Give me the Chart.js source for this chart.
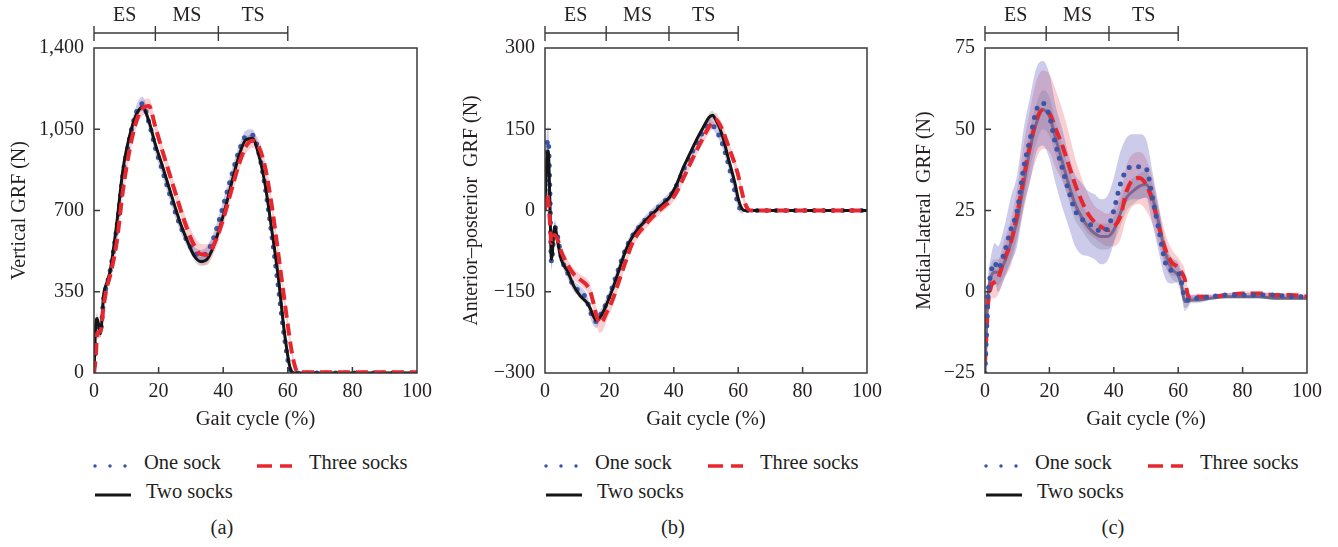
<!DOCTYPE html>
<html>
<head>
<meta charset="utf-8">
<script src="https://cdn.jsdelivr.net/npm/chart.js@4.4.1/dist/chart.umd.min.js"></script>
<style>
  body { margin: 0; background: #fff; width: 1338px; height: 547px; position: relative; overflow: hidden;
         font-family: "Liberation Serif", "DejaVu Serif", serif; color: #231f20; }
  canvas { position: absolute; top: 0; }
  .lg { position: absolute; font-size: 20.5px; line-height: 24px; white-space: nowrap; }
  .sym { position: absolute; }
</style>
</head>
<body>
<canvas id="chart-a" width="433" height="434"></canvas>
<canvas id="chart-b" width="431" height="434"></canvas>
<canvas id="chart-c" width="418" height="434"></canvas>
<script>
// Gait phases shown above each panel
const phaseBounds = [0, 19, 38.5, 60];
const phaseLabels = ['ES', 'MS', 'TS'];
const seriesNames = ['One sock', 'Two socks', 'Three socks'];

// (a) vertical GRF (N)
const vertX = [0, 0.5, 1, 2, 3, 4, 5, 7, 9, 11, 13, 15, 17, 19, 21, 23, 25, 27, 29, 31, 33, 35, 37, 39, 41, 43, 45, 47, 49, 51, 53, 55, 57, 59, 61, 62, 63, 65, 70, 80, 90, 100];
const vertOne = [0, 150, 200, 180, 320, 380, 440, 620, 860, 1010, 1120, 1160, 1080, 970, 880, 790, 700, 625, 565, 520, 505, 520, 580, 670, 770, 870, 960, 1020, 1025, 950, 800, 600, 380, 150, 5, 0, 0, 0, 0, 0, 0, 0];
const vertTwo = [0, 200, 235, 170, 340, 390, 440, 640, 880, 1020, 1110, 1145, 1085, 985, 900, 810, 720, 635, 565, 505, 480, 490, 545, 630, 730, 840, 940, 1005, 1010, 940, 810, 620, 420, 170, 10, 0, 0, 0, 0, 0, 0, 0];
const vertThree = [0, 60, 170, 180, 290, 370, 420, 560, 790, 960, 1080, 1140, 1150, 1060, 965, 875, 785, 695, 615, 550, 512, 510, 550, 620, 710, 810, 905, 975, 1000, 975, 885, 725, 520, 310, 110, 40, 5, 3, 3, 3, 3, 3];
const vertOneSd = [0, 30, 30, 25, 25, 25, 25, 25, 25, 25, 28, 30, 28, 25, 25, 25, 25, 25, 25, 25, 25, 25, 25, 25, 25, 25, 25, 25, 25, 25, 25, 25, 25, 25, 10, 3, 0, 0, 0, 0, 0, 0];
const vertTwoSd = [0, 25, 25, 20, 15, 15, 15, 15, 15, 15, 15, 15, 15, 15, 15, 15, 15, 15, 18, 20, 20, 20, 18, 15, 15, 15, 15, 15, 15, 15, 15, 15, 15, 15, 8, 3, 0, 0, 0, 0, 0, 0];
const vertThreeSd = [0, 20, 25, 25, 25, 25, 25, 30, 30, 30, 30, 32, 32, 30, 30, 30, 30, 32, 35, 40, 45, 45, 40, 35, 30, 30, 30, 30, 30, 30, 30, 30, 30, 30, 25, 15, 5, 3, 3, 3, 3, 3];

// (b) anterior-posterior GRF (N)
const apX = [0, 0.5, 1, 1.5, 2, 3, 4, 5, 7, 9, 11, 13, 14, 15, 16, 17, 18, 19, 21, 23, 25, 27, 29, 31, 33, 35, 37, 39, 41, 43, 45, 47, 49, 51, 52, 53, 55, 57, 59, 60, 61, 62, 63, 64, 70, 80, 90, 100];
const apOne = [20, 110, 130, 40, -95, -30, -50, -85, -115, -140, -150, -165, -185, -200, -205, -195, -185, -172, -140, -105, -72, -48, -32, -18, -6, 5, 16, 28, 48, 75, 100, 122, 145, 160, 158, 150, 125, 85, 35, 12, 0, 0, 0, 0, 0, 0, 0, 0];
const apTwo = [10, 90, 110, 20, -90, -30, -60, -90, -112, -140, -158, -170, -180, -195, -203, -198, -188, -175, -145, -110, -75, -50, -33, -20, -8, 3, 14, 27, 50, 80, 105, 130, 152, 172, 176, 168, 140, 95, 50, 22, 5, 0, 0, 0, 0, 0, 0, 0];
const apThree = [0, 30, 20, -20, -60, -45, -55, -75, -100, -118, -128, -138, -148, -170, -195, -208, -203, -190, -165, -130, -95, -62, -42, -28, -14, -3, 8, 18, 35, 60, 85, 110, 133, 155, 163, 168, 150, 118, 85, 65, 38, 15, 3, 0, 0, 0, 0, 0];
const apOneSd = [10, 25, 25, 20, 15, 12, 10, 10, 10, 10, 10, 10, 12, 12, 12, 10, 10, 10, 8, 8, 8, 8, 8, 8, 8, 8, 8, 8, 8, 8, 8, 8, 8, 8, 8, 8, 8, 8, 8, 8, 6, 2, 0, 0, 0, 0, 0, 0];
const apTwoSd = [8, 15, 15, 12, 10, 8, 6, 6, 6, 6, 6, 6, 6, 6, 6, 6, 6, 6, 6, 6, 6, 6, 6, 6, 6, 6, 6, 6, 6, 6, 6, 6, 6, 8, 8, 8, 6, 6, 6, 6, 4, 2, 0, 0, 0, 0, 0, 0];
const apThreeSd = [8, 15, 15, 12, 10, 10, 10, 10, 10, 10, 10, 12, 12, 14, 16, 18, 18, 16, 12, 10, 8, 8, 8, 8, 8, 8, 8, 8, 8, 8, 8, 8, 10, 12, 12, 12, 10, 10, 10, 10, 10, 8, 4, 2, 0, 0, 0, 0];

// (c) medial-lateral GRF (N)
const mlX = [0, 0.5, 1, 1.5, 2, 3, 4, 6, 8, 10, 12, 14, 16, 18, 20, 22, 24, 26, 28, 30, 32, 34, 36, 38, 40, 42, 44, 46, 48, 50, 52, 54, 56, 58, 60, 61, 62, 63, 64, 66, 70, 75, 80, 85, 90, 95, 100];
const mlOne = [-25, -12, 0, 4, 6.7, 9, 7, 12, 19, 25, 38, 47, 56, 58, 54, 45, 38, 31, 25, 22.5, 21, 20, 18.5, 19.5, 25, 33, 37.5, 38.5, 38.5, 38, 29, 19, 9, 6.5, 6, 3, -2, -2.5, -2, -2, -1.5, -1, -1, -1, -1, -1.5, -1.5];
const mlTwo = [-25, -10, 0, 3, 5, 6, 6, 9, 15, 22, 33, 44, 52, 56, 54, 47, 40, 33, 27, 23, 20, 18, 17, 17, 19, 24, 29, 31, 32.5, 33, 29, 21, 12, 7, 5, 2, -3, -3, -2.5, -2.5, -2, -1.5, -1.5, -1.5, -2, -2, -2];
const mlThree = [-22, -12, -3, 0, 2, 3, 4, 10, 15, 24, 35, 45, 53, 56, 55, 50, 45, 39, 33, 28, 24, 21.5, 20, 19, 20, 23, 31, 34.5, 35, 33, 28, 20, 13, 9, 7.5, 6, 4, -1, -2, -1.5, -1.5, -1, -0.5, -0.5, -1, -1, -1.5];
const mlOneSd = [2, 4, 5, 5, 5, 6, 7, 8, 10, 11, 12, 13, 13, 13, 13, 12, 12, 11, 11, 11, 10, 10, 10, 10, 10, 10, 10, 10, 10, 9, 8, 7, 5, 4, 3, 3, 3, 2, 1, 1, 0.6, 0.6, 0.6, 0.6, 0.6, 0.6, 0.6];
const mlTwoSd = [1, 3, 4, 4, 4, 4, 4, 4, 5, 5, 6, 6, 6, 6, 6, 5, 5, 5, 5, 4, 4, 4, 4, 4, 4, 4, 4, 4, 4, 4, 4, 4, 4, 3, 3, 3, 3, 2, 1, 1, 0.5, 0.5, 0.5, 0.5, 0.5, 0.5, 0.5];
const mlThreeSd = [2, 3, 4, 4, 4, 5, 5, 6, 7, 8, 10, 11, 12, 12, 12, 12, 11, 10, 8, 7, 6, 5, 5, 5, 6, 7, 8, 8, 8, 8, 7, 6, 5, 4, 3, 3, 3, 2, 1, 1, 0.6, 0.6, 0.6, 0.6, 0.6, 0.6, 0.6];

const minus = v => (v < 0 ? '\u2212' + Math.abs(v) : String(v));

const panels = [
  { id: 'chart-a', left: 6, plotLeft: 94, title: 'Vertical GRF (N)', min: 0, max: 1400, step: 350,
    fmt: v => v.toLocaleString('en-US'), x: vertX, series: [vertOne, vertTwo, vertThree],
    sd: [vertOneSd, vertTwoSd, vertThreeSd], order: [3, 2, 1], twoColor: '#151515', caption: '(a)' },
  { id: 'chart-b', left: 458, plotLeft: 545, title: 'Anterior\u2013posterior  GRF (N)', min: -300, max: 300, step: 150,
    fmt: minus, x: apX, series: [apOne, apTwo, apThree],
    sd: [apOneSd, apTwoSd, apThreeSd], order: [3, 2, 1], twoColor: '#151515', caption: '(b)' },
  { id: 'chart-c', left: 911, plotLeft: 985, title: 'Medial\u2013lateral  GRF (N)', min: -25, max: 75, step: 25,
    fmt: minus, x: mlX, series: [mlOne, mlTwo, mlThree],
    sd: [mlOneSd, mlTwoSd, mlThreeSd], order: [1, 20, 2], twoColor: '#6f6585', caption: '(c)' }
];

const lineStyle = [
  { color: '#3b55a6', width: 5, dash: [0, 9.5], cap: 'round', band: 'rgba(96, 94, 190, 0.32)' },
  { color: '#151515', width: 3, dash: [], cap: 'butt', band: 'rgba(110, 110, 110, 0.24)' },
  { color: '#e8262d', width: 4, dash: [12, 6], cap: 'butt', band: 'rgba(236, 105, 115, 0.32)' }
];

const ink = '#231f20';
Chart.defaults.font.family = '"Liberation Serif", "DejaVu Serif", serif';
Chart.defaults.font.size = 20;
Chart.defaults.color = ink;

const framePlugin = {
  id: 'frame',
  afterDatasetsDraw(chart) {
    const { ctx, chartArea: a, scales: { x, y } } = chart;
    ctx.save();
    ctx.strokeStyle = '#3a3a3a';
    ctx.lineWidth = 1.5;
    ctx.strokeRect(a.left, a.top, a.right - a.left, a.bottom - a.top);
    ctx.beginPath();
    x.ticks.forEach(t => {
      if (t.value <= x.min || t.value >= x.max) return;
      const px = x.getPixelForValue(t.value);
      ctx.moveTo(px, a.bottom); ctx.lineTo(px, a.bottom - 6);
    });
    y.ticks.forEach(t => {
      if (t.value <= y.min || t.value >= y.max) return;
      const py = y.getPixelForValue(t.value);
      ctx.moveTo(a.left, py); ctx.lineTo(a.left + 6, py);
    });
    ctx.stroke();

    // phase bracket above the plot
    const by = a.top - 15;
    const xs = phaseBounds.map(v => x.getPixelForValue(v));
    ctx.lineWidth = 1.4;
    ctx.beginPath();
    ctx.moveTo(xs[0], by); ctx.lineTo(xs[xs.length - 1], by);
    xs.forEach(px => { ctx.moveTo(px, by - 7); ctx.lineTo(px, by + 8); });
    ctx.stroke();
    ctx.fillStyle = ink;
    ctx.font = '20px "Liberation Serif", serif';
    ctx.textAlign = 'center';
    ctx.textBaseline = 'middle';
    phaseLabels.forEach((lab, i) => ctx.fillText(lab, (xs[i] + xs[i + 1]) / 2, a.top - 32));
    ctx.restore();
  }
};

panels.forEach(p => {
  const canvas = document.getElementById(p.id);
  canvas.style.left = p.left + 'px';
  const datasets = [];
  p.series.forEach((vals, s) => {
    const st = lineStyle[s];
    const lowIdx = datasets.length;
    datasets.push({ data: vals.map((v, i) => ({ x: p.x[i], y: v - p.sd[s][i] })), borderWidth: 0, pointRadius: 0,
      fill: false, order: 10, cubicInterpolationMode: 'monotone' });
    datasets.push({ data: vals.map((v, i) => ({ x: p.x[i], y: v + p.sd[s][i] })), borderWidth: 0, pointRadius: 0,
      fill: lowIdx, backgroundColor: st.band, order: 10, cubicInterpolationMode: 'monotone' });
  });
  p.series.forEach((vals, s) => {
    const st = lineStyle[s];
    datasets.push({
      label: seriesNames[s],
      data: vals.map((v, i) => ({ x: p.x[i], y: v })),
      borderColor: s === 1 ? p.twoColor : st.color, borderWidth: st.width, borderDash: st.dash, borderCapStyle: st.cap,
      pointRadius: 0, fill: false, cubicInterpolationMode: 'monotone', order: p.order[s]
    });
  });

  new Chart(canvas, {
    type: 'line',
    data: { datasets },
    options: {
      responsive: false, animation: false, devicePixelRatio: 1,
      layout: { padding: { left: 0, right: 20, top: 48, bottom: 0 } },
      plugins: { legend: { display: false }, tooltip: { enabled: false } },
      scales: {
        x: {
          type: 'linear', min: 0, max: 100,
          ticks: { stepSize: 20, padding: 7, maxRotation: 0, color: ink },
          grid: { display: false, drawTicks: false }, border: { display: false },
          title: { display: true, text: 'Gait cycle (%)', color: ink, font: { size: 20.5 }, padding: { top: 0, bottom: 2 } },
          afterFit: s => { s.height = 61; }
        },
        y: {
          min: p.min, max: p.max,
          ticks: { stepSize: p.step, padding: 10, color: ink, callback: v => p.fmt(v) },
          grid: { display: false, drawTicks: false }, border: { display: false },
          title: { display: true, text: p.title, color: ink, padding: { top: 2, bottom: 0 } },
          afterFit: s => { s.width = p.plotLeft - p.left; }
        }
      }
    },
    plugins: [framePlugin]
  });

  // legend and caption under each panel
  const add = (html, left, top, cls) => {
    const d = document.createElement('div');
    d.className = cls; d.style.left = left + 'px'; d.style.top = top + 'px';
    d.innerHTML = html; document.body.appendChild(d);
  };
  const L = p.plotLeft;
  add('<svg width="38" height="10"><line x1="2" y1="5" x2="33" y2="5" stroke="#3b55a6" stroke-width="3.5" stroke-linecap="round" stroke-dasharray="0 15"/></svg>', L - 1, 457, 'sym');
  add(seriesNames[0], L + 50, 450, 'lg');
  add('<svg width="38" height="10"><line x1="0" y1="5" x2="35" y2="5" stroke="#e8262d" stroke-width="3.5" stroke-dasharray="15 8"/></svg>', L + 163, 457, 'sym');
  add(seriesNames[2], L + 215, 450, 'lg');
  add('<svg width="38" height="10"><line x1="0" y1="5" x2="36" y2="5" stroke="#151515" stroke-width="3"/></svg>', L + 1, 486, 'sym');
  add(seriesNames[1], L + 52, 479, 'lg');
  const cap = document.createElement('div');
  cap.className = 'lg';
  cap.style.left = (L + 128 - 40) + 'px'; cap.style.width = '80px'; cap.style.textAlign = 'center';
  cap.style.top = '515px'; cap.textContent = p.caption;
  document.body.appendChild(cap);
});
</script>
</body>
</html>
